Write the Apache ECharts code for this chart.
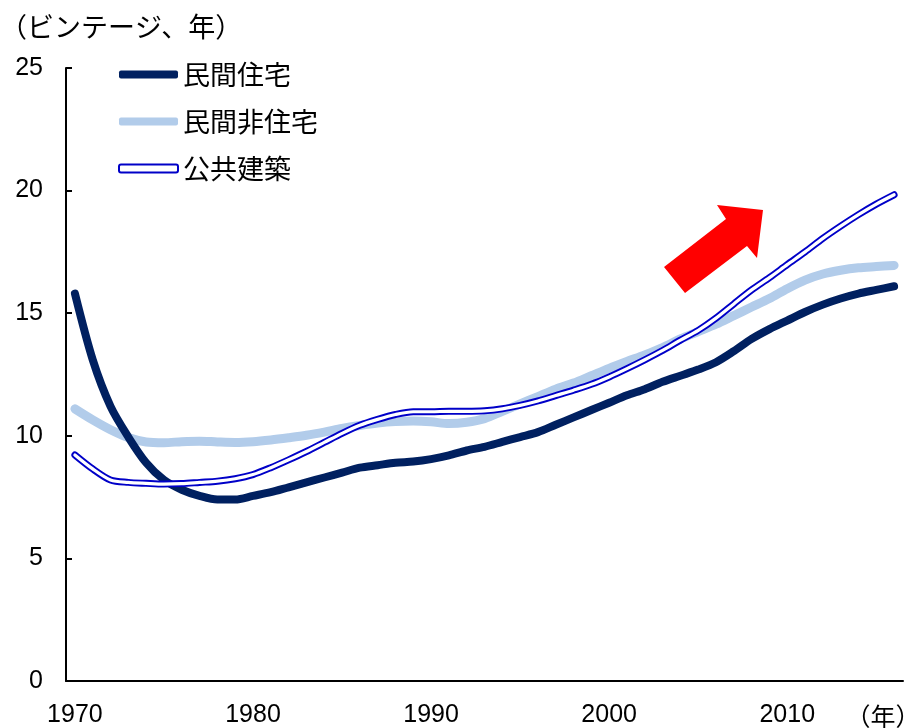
<!DOCTYPE html>
<html>
<head>
<meta charset="utf-8">
<script src="https://cdn.jsdelivr.net/npm/echarts@6/dist/echarts.min.js"></script>
<style>
  html, body { margin: 0; padding: 0; background: #fff; }
  #chart { width: 910px; height: 728px; }
</style>
</head>
<body>
<div id="chart"></div>
<script>
// 年（カテゴリ）
const years = [
  '1970','1971','1972','1973','1974','1975','1976','1977','1978','1979',
  '1980','1981','1982','1983','1984','1985','1986','1987','1988','1989',
  '1990','1991','1992','1993','1994','1995','1996','1997','1998','1999',
  '2000','2001','2002','2003','2004','2005','2006','2007','2008','2009',
  '2010','2011','2012','2013','2014','2015','2016'
];

// 民間住宅
const privateHousing = [
  15.8, 13.1, 11.2, 9.95, 8.9, 8.2, 7.8, 7.55, 7.4, 7.4,
  7.55, 7.7, 7.9, 8.1, 8.3, 8.5, 8.7, 8.8, 8.9, 8.95,
  9.05, 9.2, 9.4, 9.55, 9.75, 9.95, 10.15, 10.45, 10.75, 11.05,
  11.35, 11.65, 11.9, 12.2, 12.45, 12.7, 13.0, 13.45, 13.95, 14.35,
  14.7, 15.05, 15.35, 15.6, 15.8, 15.95, 16.1
];

// 民間非住宅
const privateNonHousing = [
  11.1, 10.65, 10.25, 9.93, 9.75, 9.72, 9.76, 9.78, 9.75, 9.73,
  9.76, 9.83, 9.92, 10.02, 10.15, 10.3, 10.42, 10.52, 10.58, 10.6,
  10.57, 10.5, 10.55, 10.7, 11.0, 11.3, 11.6, 11.9, 12.15, 12.45,
  12.75, 13.03, 13.3, 13.6, 13.95, 14.25, 14.55, 14.9, 15.25, 15.6,
  16.0, 16.35, 16.6, 16.75, 16.85, 16.9, 16.95
];

// 公共建築
const publicBuildings = [
  9.22, 8.65, 8.2, 8.1, 8.06, 8.03, 8.05, 8.1, 8.15, 8.25,
  8.42, 8.7, 9.02, 9.36, 9.73, 10.1, 10.43, 10.67, 10.87, 10.98,
  10.98, 11.0, 11.0, 11.02, 11.1, 11.24, 11.42, 11.64, 11.86, 12.1,
  12.4, 12.74, 13.1, 13.48, 13.9, 14.3, 14.8, 15.38, 15.95, 16.45,
  16.98, 17.5, 18.05, 18.55, 19.02, 19.45, 19.83
];

const seriesNames = ['民間住宅', '民間非住宅', '公共建築'];

const NAVY = '#002060';
const LIGHT = '#B2CCEA';
const BLUE = '#0000C8';
const LATIN = '"Liberation Sans", Arial, sans-serif';
const CJK = '"Noto Sans CJK JP", "Noto Sans", sans-serif';

const chart = echarts.init(document.getElementById('chart'), null, { renderer: 'canvas' });

chart.setOption({
  animation: false,
  backgroundColor: '#fff',
  title: {
    text: '（ビンテージ、年）',
    left: 0, top: 13, padding: 0,
    textStyle: { fontFamily: CJK, fontSize: 27, fontWeight: 'normal', color: '#000' }
  },
  grid: { left: 66, right: 7, top: 68, bottom: 46, containLabel: false },
  legend: {
    orient: 'vertical',
    left: 118, top: 61, padding: 0,
    itemWidth: 59, itemHeight: 8, itemGap: 20,
    textStyle: { fontFamily: CJK, fontSize: 27, color: '#000', lineHeight: 26 },
    data: [
      { name: seriesNames[0], icon: 'roundRect', itemStyle: { color: NAVY, borderWidth: 0 } },
      { name: seriesNames[1], icon: 'roundRect', itemStyle: { color: LIGHT, borderWidth: 0 } },
      { name: seriesNames[2], icon: 'roundRect', itemStyle: { color: '#fff', borderColor: BLUE, borderWidth: 2 } }
    ]
  },
  xAxis: {
    type: 'category',
    data: years,
    boundaryGap: true,
    axisLine: { lineStyle: { color: '#000', width: 2 } },
    axisTick: { inside: true, length: 6, interval: 0, lineStyle: { color: '#000', width: 1.5 } },
    axisLabel: { interval: 9, margin: 22, fontFamily: LATIN, fontSize: 25, color: '#000' },
    splitLine: { show: false }
  },
  yAxis: {
    type: 'value',
    min: 0, max: 25, interval: 5,
    axisLine: { show: true, lineStyle: { color: '#000', width: 2 } },
    axisTick: { show: true, inside: true, length: 6, lineStyle: { color: '#000', width: 2 } },
    axisLabel: { margin: 23, fontFamily: LATIN, fontSize: 25, color: '#000' },
    splitLine: { show: false }
  },
  series: [
    {
      name: seriesNames[1], type: 'line', data: privateNonHousing,
      smooth: 0.3, showSymbol: false, symbol: 'none', z: 2,
      itemStyle: { color: LIGHT },
      lineStyle: { color: LIGHT, width: 9, cap: 'round', join: 'round' }
    },
    {
      name: seriesNames[0], type: 'line', data: privateHousing,
      smooth: 0.3, showSymbol: false, symbol: 'none', z: 3,
      itemStyle: { color: NAVY },
      lineStyle: { color: NAVY, width: 8, cap: 'round', join: 'round' }
    },
    {
      name: seriesNames[2], type: 'line', data: publicBuildings,
      smooth: 0.3, showSymbol: false, symbol: 'none', z: 4,
      itemStyle: { color: BLUE },
      lineStyle: { color: BLUE, width: 7, cap: 'round', join: 'round' }
    },
    {
      // 公共建築の二重線（内側の白線）
      name: seriesNames[2] + '_inner', type: 'line', data: publicBuildings,
      smooth: 0.3, showSymbol: false, symbol: 'none', z: 5, silent: true,
      legendHoverLink: false,
      itemStyle: { color: '#fff' },
      lineStyle: { color: '#fff', width: 3.2, cap: 'round', join: 'round' }
    }
  ],
  graphic: [
    {
      // 上昇を示す矢印
      type: 'polygon', z: 10,
      shape: { points: [[664, 267], [726, 219], [717, 205], [763, 210], [757, 258], [747, 246], [685, 293]] },
      style: { fill: '#FF0000' }
    },
    {
      type: 'text', z: 10,
      x: 883, y: 716,
      style: { text: '（年）', fontFamily: CJK, fontSize: 25, fill: '#000', textAlign: 'center', textVerticalAlign: 'middle' }
    }
  ]
});
</script>
</body>
</html>
